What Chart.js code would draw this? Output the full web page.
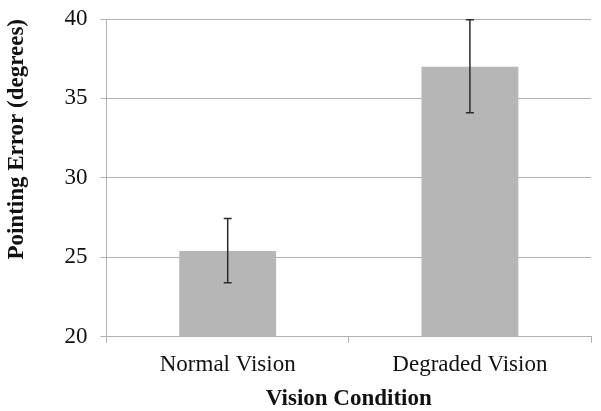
<!DOCTYPE html>
<html>
<head>
<meta charset="utf-8">
<script src="https://cdn.jsdelivr.net/npm/chart.js@4/dist/chart.umd.min.js"></script>
<style>
  html, body { margin: 0; padding: 0; background: #fff; }
  #wrap { width: 601px; height: 411px; }
</style>
</head>
<body>
<div id="wrap"><canvas id="grafica"></canvas></div>
<script>
const categorias = ['Normal Vision', 'Degraded Vision']
const errorMedio = [25.4, 37.0]
const errorSuperior = [27.45, 39.95]
const errorInferior = [23.4, 34.1]
const ticksY = [20, 25, 30, 35, 40]

const gris = '#b0b0b0'

// barras de error dibujadas con las escalas del grafico
const barrasError = {
    id: 'barrasError',
    afterDatasetsDraw(chart) {
        const ctx = chart.ctx
        const y = chart.scales.y
        const meta = chart.getDatasetMeta(0)
        ctx.save()
        ctx.strokeStyle = '#2b2b2b'
        ctx.lineWidth = 1.5
        meta.data.forEach((barra, i) => {
            const x = barra.x
            const arriba = y.getPixelForValue(errorSuperior[i])
            const abajo = y.getPixelForValue(errorInferior[i])
            ctx.beginPath()
            ctx.moveTo(x, arriba)
            ctx.lineTo(x, abajo)
            ctx.moveTo(x - 4, arriba)
            ctx.lineTo(x + 4, arriba)
            ctx.moveTo(x - 4, abajo)
            ctx.lineTo(x + 4, abajo)
            ctx.stroke()
        })
        ctx.restore()
    }
}

const fuente = 'Liberation Serif, Times New Roman, serif'

new Chart(document.getElementById('grafica'), {
    type: 'bar',
    data: {
        labels: categorias,
        datasets: [{
            data: errorMedio,
            backgroundColor: '#b6b6b6',
            barPercentage: 0.4,
            categoryPercentage: 1
        }]
    },
    options: {
        responsive: true,
        maintainAspectRatio: false,
        animation: false,
        layout: { padding: { top: 0, right: 10, left: 0, bottom: 0 } },
        plugins: { legend: { display: false }, tooltip: { enabled: false } },
        scales: {
            x: {
                grid: { drawOnChartArea: false, tickLength: 6, color: gris },
                border: { color: gris },
                ticks: { color: '#111', font: { family: fuente, size: 23 }, padding: 8 },
                title: {
                    display: true, text: 'Vision Condition', color: '#111',
                    font: { family: fuente, size: 23, weight: 'bold', lineHeight: 1.07 }, padding: { top: 0, bottom: 0 }
                }
            },
            y: {
                min: 20,
                max: 40,
                afterBuildTicks: escala => { escala.ticks = ticksY.map(v => ({ value: v })) },
                afterFit: escala => { escala.paddingTop = 19 },
                grid: { color: gris, tickLength: 6 },
                border: { color: gris },
                ticks: { color: '#111', font: { family: fuente, size: 23 }, padding: 13 },
                title: {
                    display: true, text: 'Pointing Error (degrees)', color: '#111', align: 'end',
                    font: { family: fuente, size: 23, weight: 'bold' }, padding: { top: 3, bottom: 21 }
                }
            }
        }
    },
    plugins: [barrasError]
})
</script>
</body>
</html>
